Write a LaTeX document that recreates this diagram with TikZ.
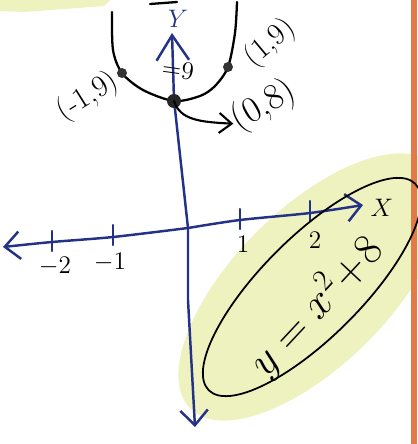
\documentclass[tikz,border=0pt]{standalone}
\usetikzlibrary{arrows.meta}
\definecolor{pen}{RGB}{35,50,135}
\definecolor{hilite}{RGB}{238,242,190}
\definecolor{edge}{RGB}{226,122,72}
\begin{document}
\begin{tikzpicture}[x=0.02cm,y=-0.02cm,line cap=round,line join=round,
    barb/.style={-{Straight Barb[length=3mm,width=5.5mm]}},
    tag/.style={inner sep=0.5pt}]
      \def\W{417}
      \def\H{444}
      \useasboundingbox (0,0) rectangle (\W,\H);
      \coordinate (O) at (188,228);
      \coordinate (X) at (363,205);
      \coordinate (Xm) at (3,247);
      \coordinate (Y) at (172,33);
      \coordinate (Ym) at (195,427);
      \coordinate (C) at (312,287);

      % PAPER
      \fill[hilite] (0,0) -- (110,0) -- (104,6) -- (25,12) -- (0,11) -- cycle;
      \fill[hilite, rotate around={45:(C)}] (C) ellipse [x radius=172, y radius=78];
      \fill[edge] (411,0) rectangle (\W,\H);

      % AXIS
      \draw[line width=1.4pt, pen, barb] (O) -- (188,300) -- (Ym);
      \draw[line width=1.4pt, pen, -{Straight Barb[length=5mm,width=6.5mm]}] (O) -- (174,100) -- (Y);
      \draw[line width=1.4pt, pen, barb] plot[smooth] coordinates {(O) (240,220) (310,213) (X)};
      \draw[line width=1.4pt, pen, barb] plot[smooth] coordinates {(O) (113,237) (52,242) (Xm)};
      \node[pen, tag] (ylab) at (178,19) {\Large $Y$};
      \node[tag] (xlab) at (382,208) {\Large $X$};
      \foreach \x/\y in {52/242, 113/236, 240/220, 310/212} {
        \draw[line width=1.2pt, pen] (\x,\y-11) -- (\x,\y+9);
      }
      \node[tag] (tm2) at (55,266) {\Large $-2$};
      \node[tag] (tm1) at (110,262) {\Large $-1$};
      \node[tag] (tp1) at (243,244) {\Large 1};
      \node[tag] (tp2) at (315,240) {\Large 2};

      % PARABOLA
      \draw[line width=1.3pt] (150,4) -- (177,2);
      \draw[line width=1.3pt] plot[smooth] coordinates {(112,12) (113,50) (122,73) (143,90) (174,101) (200,96) (215,86) (228,67) (235,33) (237,2)};
      \fill[black!80] (122,73) circle [radius=5];
      \fill[black!80] (228,67) circle [radius=5];
      \fill[black!85] (174,101) circle [radius=7] coordinate (V);
      \node[tag, rotate=32] (lblL) at (88,97) {\LARGE (-1,9)};
      \node[tag, rotate=40] (lblR) at (270,43) {\LARGE (1,9)};
      \node[tag, rotate=30] (lblV) at (264,106) {\huge (0,8)};
      \node[tag, rotate=-8] (lbleq) at (178,70) {\Large =9};
      \draw[line width=1.2pt, -{Straight Barb[length=2.5mm,width=4mm]}] (V) .. controls (180,120) and (200,122) .. (lblV.west);

      % EQUATION
      \draw[line width=1pt, rotate around={45:(C)}] (C) ellipse [x radius=146, y radius=50];
      \node[tag, rotate=47] (eq) at (316,306) {\fontsize{24}{28}\selectfont $y=x^2\!+\!8$};
\end{tikzpicture}
\end{document}
